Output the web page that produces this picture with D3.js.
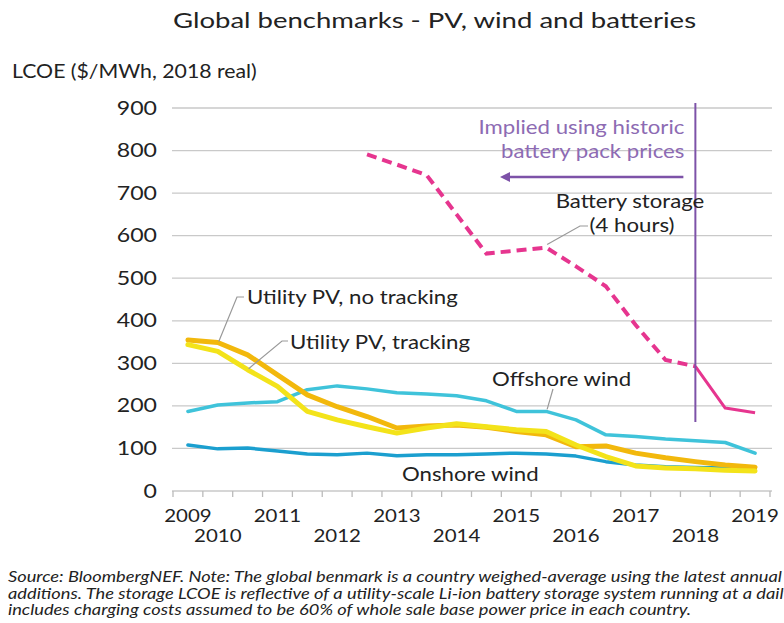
<!DOCTYPE html>
<html>
<head>
<meta charset="utf-8">
<script src="https://cdn.jsdelivr.net/npm/d3@7"></script>
<style>
  html, body { margin: 0; padding: 0; background: #fff; }
  svg { display: block; }
  text { font-family: Lato, "Open Sans", sans-serif; }
</style>
</head>
<body>
<svg id="chart" width="784" height="623"></svg>
<script>
// ---- Data ----
const periods = ["2H09","1H10","2H10","1H11","2H11","1H12","2H12","1H13","2H13","1H14",
                 "2H14","1H15","2H15","1H16","2H16","1H17","2H17","1H18","2H18","1H19"];
const yearLabels = ["2009","2010","2011","2012","2013","2014","2015","2016","2017","2018","2019"];
const yTicks = [0,100,200,300,400,500,600,700,800,900];

const onshoreWind  = [108, 99,101, 94, 87, 85, 89, 83, 85, 85, 87, 89, 87, 82, 69, 61, 57, 55, 54, 52];
const offshoreWind = [187,202,207,210,238,247,240,231,228,224,212,187,187,167,132,128,122,118,114, 89];
const pvNoTracking = [355,349,320,273,226,198,175,148,153,155,150,140,132,104,106, 89, 78, 69, 61, 56];
const pvTracking   = [344,328,285,246,187,167,151,136,148,158,151,144,140,108, 81, 59, 54, 52, 49, 47];
const battery      = [null,null,null,null,null,null,791,767,742,650,558,565,572,528,481,390,308,293,195,184];
const batteryImpliedUntil = "1H18";

// ---- Layout ----
const svg = d3.select("#chart");
const x = d3.scaleBand().domain(periods).range([173, 770]);
const y = d3.scaleLinear().domain([0, 900]).range([491, 108]);
const cx = p => x(p) + x.bandwidth() / 2;

// text helper: horizontally widened glyphs to match the reference's wide face
function T(parent, tx, ty, str, size, k, anchor, color, italic) {
  const t = parent.append("text")
    .attr("transform", `translate(${tx},${ty}) scale(${k},1)`)
    .attr("text-anchor", anchor || "start")
    .attr("font-size", size).attr("fill", color || "#222").text(str);
  if (italic) t.attr("font-style", "italic");
  return t;
}

// Title
T(svg, 434.5, 28, "Global benchmarks - PV, wind and batteries", 21, 1.31, "middle");
T(svg, 12, 78, "LCOE ($/MWh, 2018 real)", 18.5, 1.15);

// Grid
svg.append("g").selectAll("line").data(yTicks).join("line")
  .attr("x1", 172).attr("x2", 772)
  .attr("y1", d => y(d)).attr("y2", d => y(d))
  .attr("stroke", "#c9c9c9").attr("stroke-width", 1.3);

// Y axis labels
svg.append("g").selectAll("text").data(yTicks).join("text")
  .attr("transform", d => `translate(157,${y(d) + 6.5}) scale(1.25,1)`)
  .attr("text-anchor", "end")
  .attr("font-size", 18.5).attr("fill", "#222").text(d => d);

// X ticks at band boundaries
const edges = periods.map(p => x(p)).concat([x.range()[1]]);
svg.append("g").selectAll("line").data(edges).join("line")
  .attr("x1", d => d).attr("x2", d => d)
  .attr("y1", y(0)).attr("y2", y(0) + 6)
  .attr("stroke", "#bbb").attr("stroke-width", 1.3);

// X year labels, staggered rows
svg.append("g").selectAll("text").data(yearLabels).join("text")
  .attr("transform", (d, i) => {
    const p = periods.find(q => q.slice(2) === d.slice(2));
    return `translate(${cx(p)},${i % 2 === 0 ? 522 : 542}) scale(1.17,1)`;
  })
  .attr("text-anchor", "middle").attr("font-size", 17.5).attr("fill", "#222").text(d => d);

// Lines
const line = d3.line().defined(d => d.v != null).x(d => cx(d.p)).y(d => y(d.v));
const toPts = arr => arr.map((v, i) => ({ p: periods[i], v }));

function drawSeries(arr, color, width) {
  svg.append("path").datum(toPts(arr)).attr("d", line)
    .attr("fill", "none").attr("stroke", color).attr("stroke-width", width)
    .attr("stroke-linejoin", "round").attr("stroke-linecap", "round");
}
drawSeries(offshoreWind, "#3fc3da", 3.5);
drawSeries(onshoreWind, "#1b9fcf", 3.5);
drawSeries(pvNoTracking, "#f2b80c", 5);
drawSeries(pvTracking, "#f3e31a", 5);

// Battery: dashed (implied) then solid
const cut = periods.indexOf(batteryImpliedUntil);
const bPts = toPts(battery);
svg.append("path").datum(bPts.slice(0, cut + 1)).attr("d", line)
  .attr("fill", "none").attr("stroke", "#e6358f").attr("stroke-width", 4)
  .attr("stroke-dasharray", "10,6");
svg.append("path").datum(bPts.slice(cut)).attr("d", line)
  .attr("fill", "none").attr("stroke", "#e6358f").attr("stroke-width", 3)
  .attr("stroke-linejoin", "round");

// Vertical marker and arrow
const vx = cx(batteryImpliedUntil);
svg.append("line").attr("x1", vx).attr("x2", vx).attr("y1", 103).attr("y2", 422)
  .attr("stroke", "#7d52a8").attr("stroke-width", 2);
svg.append("defs").append("marker").attr("id", "arr").attr("viewBox", "0 0 10 10")
  .attr("refX", 2).attr("refY", 5).attr("markerWidth", 4).attr("markerHeight", 4)
  .attr("orient", "auto-start-reverse")
  .append("path").attr("d", "M0,0 L10,5 L0,10 z").attr("fill", "#7d52a8");
svg.append("line").attr("x1", vx - 12).attr("x2", 508).attr("y1", 177).attr("y2", 177)
  .attr("stroke", "#7d52a8").attr("stroke-width", 2.5).attr("marker-end", "url(#arr)");
T(svg, vx - 11, 134, "Implied using historic", 18.5, 1.2, "end", "#8d6bb3");
T(svg, vx - 11, 158, "battery pack prices", 18.5, 1.2, "end", "#8d6bb3");

// Annotations
const annot = (t, xx, yy, anchor) => T(svg, xx, yy, t, 18.5, 1.2, anchor);
const leader = pts => svg.append("polyline").attr("points", pts.map(p => p.join(",")).join(" "))
  .attr("fill", "none").attr("stroke", "#999").attr("stroke-width", 1.2);

annot("Battery storage", 630, 208, "middle");
annot("(4 hours)", 632, 232, "middle");
leader([[588, 226], [580, 226], [cx("2H15") + 1, y(battery[12]) - 3]]);

annot("Utility PV, no tracking", 247, 304);
leader([[244, 297], [237, 297], [cx("1H10") + 1, y(pvNoTracking[1]) - 1]]);

annot("Utility PV, tracking", 290, 349);
leader([[288, 341], [282, 341], [cx("2H10") + 1, y(pvTracking[2]) - 1]]);

annot("Offshore wind", 492, 386);
leader([[553, 389], [cx("2H15") + 1, y(offshoreWind[12]) - 2]]);

annot("Onshore wind", 402, 481);

// Footnote
const notes = [
  "Source: BloombergNEF. Note: The global benmark is a country weighed-average using the latest annual",
  "additions. The storage LCOE is reflective of a utility-scale Li-ion battery storage system running at a daily",
  "includes charging costs assumed to be 60% of whole sale base power price in each country."
];
const fn = svg.append("g");
notes.forEach((d, i) => T(fn, 8, 582 + i * 16.5, d, 16.3, 1.12, "start", "#222", true));
</script>
</body>
</html>
